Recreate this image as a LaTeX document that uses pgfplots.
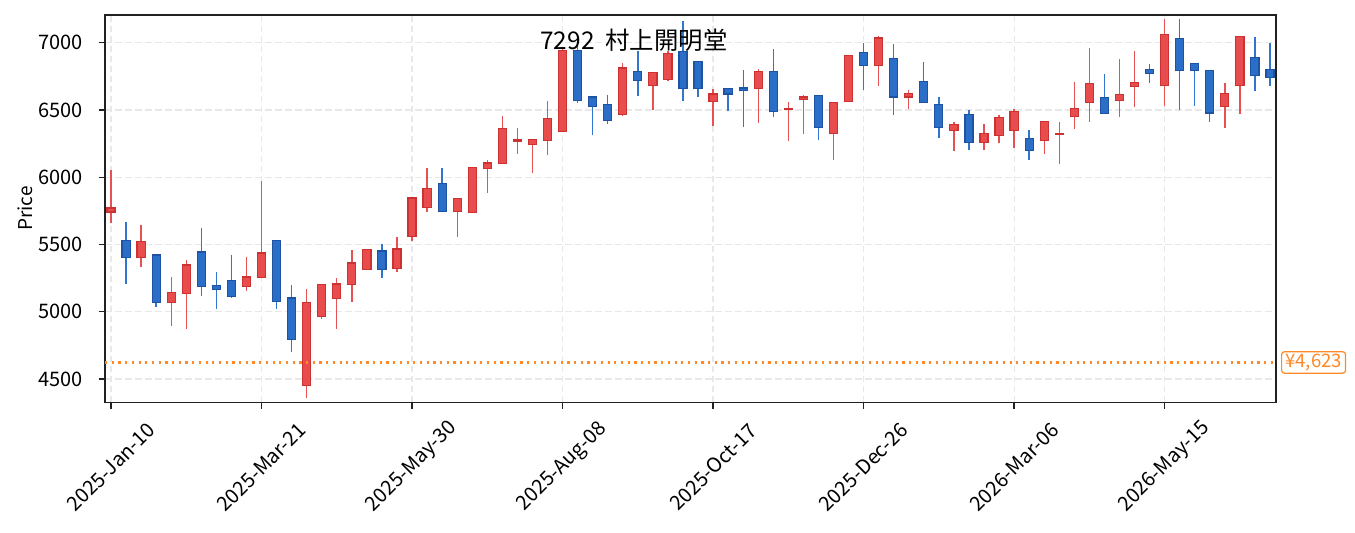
\documentclass[border=0pt]{standalone}
\usepackage{fontspec}
\setmainfont{Noto Sans CJK JP}
\usepackage{pgfplots}
\usepackage{pgfplotstable}
\pgfplotsset{compat=1.18}

\definecolor{upface}{RGB}{232,76,76}
\definecolor{upedge}{RGB}{204,50,50}
\definecolor{upwick}{RGB}{228,82,82}
\definecolor{dnface}{RGB}{42,110,200}
\definecolor{dnedge}{RGB}{30,82,162}
\definecolor{dnwick}{RGB}{48,118,206}
\definecolor{refline}{RGB}{255,136,40}
\definecolor{gridc}{RGB}{232,232,232}

% weekly candles, i = week index from 2025-Jan-10
\pgfplotstableread{
i o h l c
0 5741 6053 5663 5771
2 5403 5642 5333 5522
4 5069 5257 4896 5143
5 5138 5383 4871 5348
9 5190 5405 5153 5259
10 5257 5969 5257 5437
13 4453 5168 4361 5066
14 4967 5200 4945 5200
15 5101 5249 4871 5207
16 5205 5457 5074 5363
17 5316 5460 5316 5460
19 5324 5559 5296 5467
20 5561 5845 5526 5845
21 5776 6065 5744 5915
23 5744 5841 5556 5841
24 5737 6075 5737 6070
25 6065 6130 5882 6105
26 6102 6458 6102 6364
27 6270 6367 6174 6276
28 6243 6278 6030 6278
29 6273 6570 6164 6439
30 6338 6961 6338 6943
34 6466 6849 6458 6812
36 6683 6780 6498 6780
37 6726 6941 6713 6921
40 6560 6659 6379 6619
43 6659 6807 6402 6783
45 6504 6560 6273 6510
46 6582 6614 6318 6597
48 6325 6557 6127 6557
49 6560 6906 6560 6906
51 6829 7052 6681 7035
53 6597 6651 6510 6624
56 6347 6407 6194 6390
58 6258 6399 6201 6323
59 6310 6466 6253 6446
60 6347 6508 6216 6490
62 6273 6416 6171 6416
63 6316 6407 6097 6322
64 6451 6711 6357 6513
65 6555 6963 6414 6698
67 6570 6881 6451 6617
68 6674 6941 6525 6706
70 6681 7178 6533 7062
74 6525 6703 6364 6624
75 6681 7047 6468 7047
}\up

\pgfplotstableread{
i o h l c
1 5529 5667 5205 5403
3 5422 5422 5036 5069
6 5444 5620 5118 5190
7 5195 5292 5019 5168
8 5230 5420 5101 5116
11 5529 5529 5019 5077
12 5103 5197 4703 4795
18 5452 5507 5252 5316
22 5952 6065 5744 5744
31 6943 7047 6553 6570
32 6597 6597 6312 6525
33 6538 6614 6397 6421
35 6785 6941 6602 6718
38 6936 7158 6565 6659
39 6861 6861 6594 6659
41 6657 6657 6490 6619
42 6664 6800 6372 6642
44 6787 6955 6446 6486
47 6605 6605 6280 6367
50 6928 7000 6651 6829
52 6884 6993 6461 6597
54 6713 6859 6553 6553
55 6538 6599 6288 6367
57 6464 6503 6199 6258
61 6290 6352 6127 6199
66 6594 6770 6473 6473
69 6802 6844 6703 6770
71 7032 7178 6503 6792
72 6847 6847 6533 6792
73 6795 6795 6409 6478
76 6891 7045 6639 6755
77 6802 7000 6676 6740
}\down

\begin{document}
\begin{tikzpicture}
\begin{axis}[
  at={(52.5pt,65.35pt)}, anchor=south west,
  scale only axis, width=585.5pt, height=193.65pt,
  xmin=-0.4, xmax=77.4, ymin=4327, ymax=7206,
  axis line style={draw=black!87, line width=0.65pt},
  tick align=outside, xtick pos=bottom, ytick pos=left,
  major tick length=3.2pt,
  tick style={black!87, line width=0.65pt},
  xtick={0,10,...,70},
  xticklabels={2025-Jan-10,2025-Mar-21,2025-May-30,2025-Aug-08,2025-Oct-17,2025-Dec-26,2026-Mar-06,2026-May-15},
  ytick={4500,5000,5500,6000,6500,7000},
  yticklabels={4500,5000,5500,6000,6500,7000},
  grid=major,
  major grid style={gridc, line width=0.6pt, dash pattern=on 3.3pt off 1.7pt},
  ticklabel style={font=\fontsize{10}{12}\selectfont},
  xticklabel style={anchor=center, rotate=45, inner sep=0pt},
  xticklabel shift=29.2pt,
  yticklabel style={anchor=east, inner sep=0pt},
  yticklabel shift=7.85pt,
  ylabel={Price},
  every axis y label/.style={at={(rel axis cs:0,0.5)}, rotate=90, anchor=center, yshift=40pt, font=\fontsize{9.5}{11}\selectfont},
  title={7292\ \ 村上開明堂},
  every axis title/.style={at={(rel axis cs:0.4517,1)}, anchor=base, yshift=-17.5pt, font=\fontsize{12.2}{14}\selectfont},
]
% wicks
\addplot[forget plot, draw=none, mark=none, error bars/.cd, y dir=plus, y explicit, error mark=none,
  error bar style={draw=upwick, line width=0.68pt}]
  table[x=i, y=l, y error plus expr=\thisrow{h}-\thisrow{l}] {\up};
\addplot[forget plot, draw=none, mark=none, error bars/.cd, y dir=plus, y explicit, error mark=none,
  error bar style={draw=dnwick, line width=0.68pt}]
  table[x=i, y=l, y error plus expr=\thisrow{h}-\thisrow{l}] {\down};
% bodies: edge
\addplot[forget plot, draw=none, mark=none, error bars/.cd, y dir=plus, y explicit, error mark=none,
  error bar style={draw=upedge, line width=4.65pt}]
  table[x=i, y expr=\thisrow{o}-4.5, y error plus expr=\thisrow{c}-\thisrow{o}+9] {\up};
\addplot[forget plot, draw=none, mark=none, error bars/.cd, y dir=plus, y explicit, error mark=none,
  error bar style={draw=dnedge, line width=4.65pt}]
  table[x=i, y expr=\thisrow{c}-4.5, y error plus expr=\thisrow{o}-\thisrow{c}+9] {\down};
% bodies: face
\addplot[forget plot, draw=none, mark=none, error bars/.cd, y dir=plus, y explicit, error mark=none,
  error bar style={draw=upface, line width=3.45pt}]
  table[x=i, y expr=\thisrow{o}+4.5, y error plus expr={max(\thisrow{c}-\thisrow{o}-9,0)}] {\up};
\addplot[forget plot, draw=none, mark=none, error bars/.cd, y dir=plus, y explicit, error mark=none,
  error bar style={draw=dnface, line width=3.45pt}]
  table[x=i, y expr=\thisrow{c}+4.5, y error plus expr={max(\thisrow{o}-\thisrow{c}-9,0)}] {\down};
% reference line
\addplot[forget plot, refline, line width=1.1pt, dash pattern=on 1.1pt off 2.25pt] coordinates {(-0.4,4623) (77.4,4623)};
\coordinate (lab) at (axis cs:77.4,4623);
\end{axis}
\node[anchor=west, xshift=2.5pt, draw=refline, fill=white, rounded corners=1.5pt, line width=0.6pt,
  text=refline, font=\fontsize{9.3}{11}\selectfont, inner xsep=1.8pt, inner ysep=0pt,
  minimum height=10.8pt] at (lab) {¥4,623};
\pgfresetboundingbox
\path[use as bounding box] (0,0) rectangle (677.5pt,266.5pt);
\end{tikzpicture}
\end{document}
